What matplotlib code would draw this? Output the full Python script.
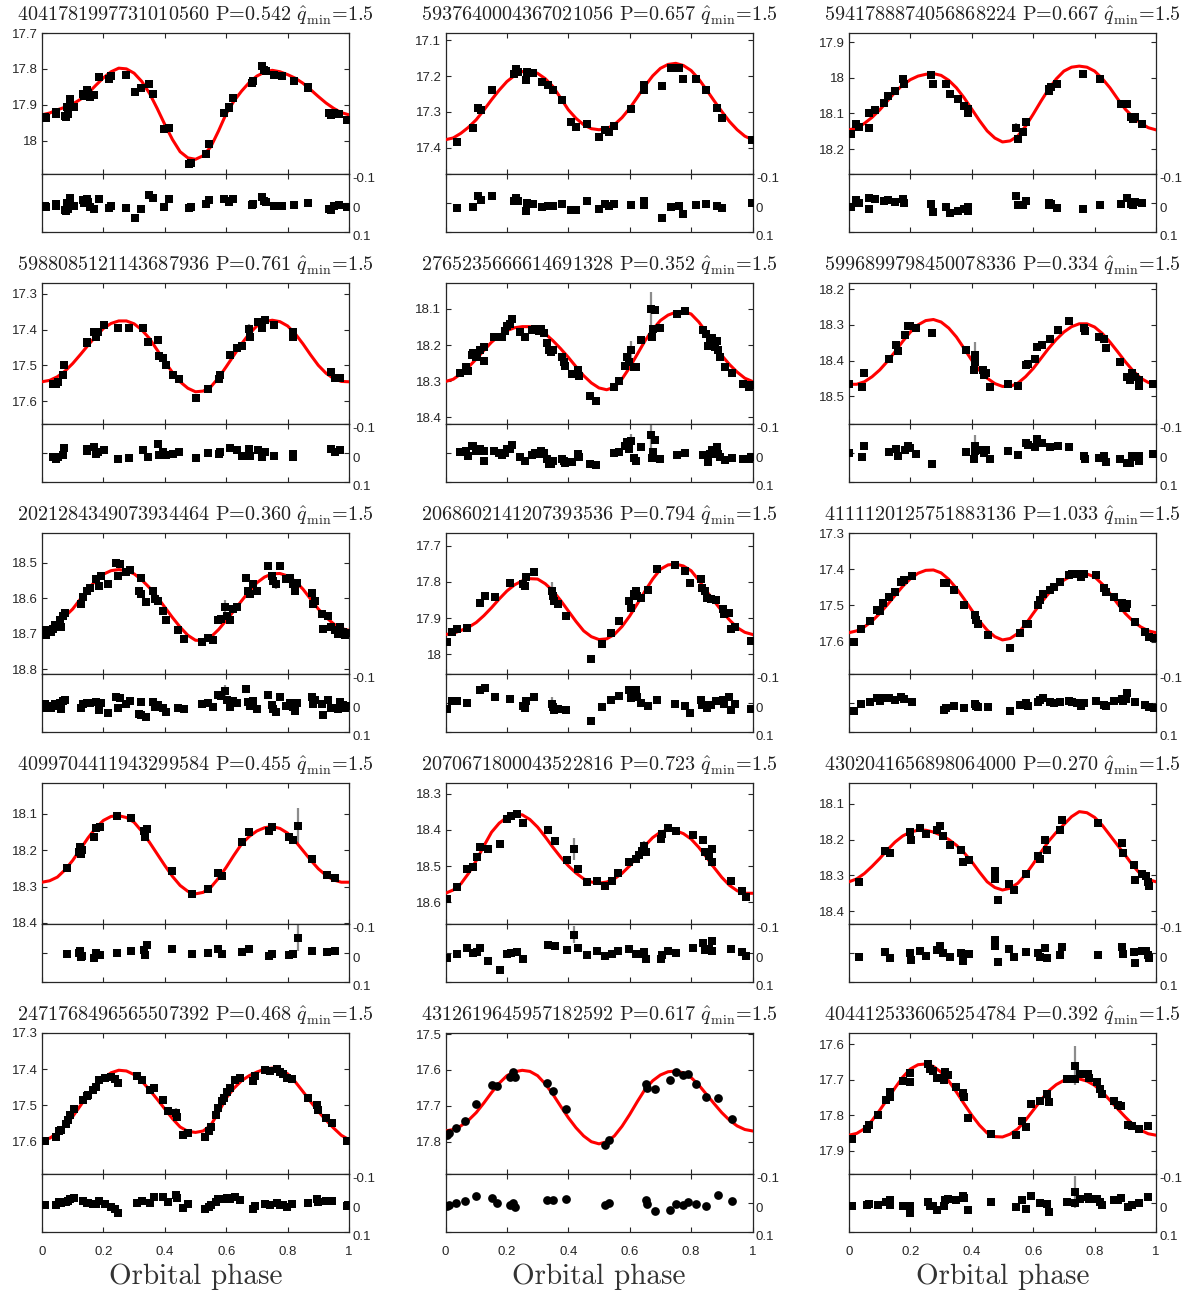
import numpy as np
import matplotlib
matplotlib.use('Agg')
import matplotlib.pyplot as plt
from matplotlib.ticker import MultipleLocator, FuncFormatter
import matplotlib.transforms as mtransforms

plt.rcParams['mathtext.fontset'] = 'cm'
plt.rcParams['font.family'] = ['Liberation Sans', 'DejaVu Sans']

# --- panel headers (row by row) ---
source_ids = ['4041781997731010560', '5937640004367021056', '5941788874056868224',
              '5988085121143687936', '2765235666614691328', '5996899798450078336',
              '2021284349073934464', '2068602141207393536', '4111120125751883136',
              '4099704411943299584', '2070671800043522816', '4302041656898064000',
              '2471768496565507392', '4312619645957182592', '4044125336065254784']
periods = ['0.542', '0.657', '0.667', '0.761', '0.352', '0.334', '0.360', '0.794',
           '1.033', '0.455', '0.723', '0.270', '0.468', '0.617', '0.392']
q_min = '1.5'

# magnitude range of each light-curve panel (bright end, faint end)
mag_top = [17.70, 17.079, 17.874, 17.27, 18.028, 18.183, 18.416, 17.665,
           17.30, 18.015, 18.27, 18.042, 17.30, 17.497, 17.569]
mag_bottom = [18.093, 17.474, 18.27, 17.664, 18.419, 18.577, 18.813, 18.054,
              17.689, 18.403, 18.66, 18.436, 17.69, 17.89, 17.965]

# model light curves read at phase 0, 0.025, ..., 1
curve_phase = [0.000, 0.025, 0.050, 0.075, 0.100, 0.125, 0.150, 0.175, 0.200, 0.225,
               0.250, 0.275, 0.300, 0.325, 0.350, 0.375, 0.400, 0.425, 0.450, 0.475,
               0.500, 0.525, 0.550, 0.575, 0.600, 0.625, 0.650, 0.675, 0.700, 0.725,
               0.750, 0.775, 0.800, 0.825, 0.850, 0.875, 0.900, 0.925, 0.950, 0.975, 1.000]
curve_01 = [17.928, 17.923, 17.914, 17.907, 17.898, 17.885, 17.868, 17.846, 17.825, 17.808,
            17.798, 17.800, 17.812, 17.835, 17.868, 17.910, 17.955, 17.997, 18.031, 18.048,
            18.052, 18.042, 18.017, 17.973, 17.925, 17.890, 17.862, 17.838, 17.820, 17.809,
            17.804, 17.808, 17.816, 17.826, 17.840, 17.858, 17.877, 17.895, 17.910, 17.922, 17.928]
curve_02 = [17.378, 17.373, 17.360, 17.343, 17.322, 17.295, 17.266, 17.239, 17.215, 17.198,
            17.187, 17.185, 17.192, 17.207, 17.229, 17.261, 17.294, 17.318, 17.336, 17.347,
            17.350, 17.347, 17.336, 17.316, 17.290, 17.259, 17.227, 17.199, 17.178, 17.167,
            17.164, 17.170, 17.184, 17.208, 17.238, 17.269, 17.299, 17.327, 17.350, 17.368, 17.378]
curve_03 = [18.146, 18.141, 18.128, 18.111, 18.090, 18.065, 18.040, 18.020, 18.005, 17.995,
            17.990, 17.988, 17.993, 18.007, 18.028, 18.056, 18.088, 18.120, 18.149, 18.169,
            18.180, 18.177, 18.163, 18.136, 18.102, 18.066, 18.032, 18.003, 17.981, 17.970,
            17.967, 17.970, 17.981, 18.002, 18.028, 18.059, 18.088, 18.110, 18.127, 18.140, 18.146]
curve_04 = [17.546, 17.542, 17.532, 17.516, 17.495, 17.470, 17.444, 17.419, 17.397, 17.383,
            17.376, 17.376, 17.384, 17.401, 17.425, 17.457, 17.490, 17.520, 17.546, 17.564,
            17.574, 17.572, 17.560, 17.535, 17.504, 17.472, 17.440, 17.412, 17.390, 17.378,
            17.374, 17.378, 17.390, 17.412, 17.440, 17.471, 17.500, 17.522, 17.537, 17.545, 17.546]
curve_05 = [18.301, 18.295, 18.280, 18.261, 18.239, 18.215, 18.192, 18.174, 18.160, 18.152,
            18.149, 18.149, 18.155, 18.169, 18.188, 18.210, 18.234, 18.260, 18.285, 18.305,
            18.319, 18.324, 18.317, 18.294, 18.262, 18.225, 18.188, 18.157, 18.132, 18.117,
            18.109, 18.107, 18.114, 18.136, 18.165, 18.197, 18.229, 18.254, 18.275, 18.292, 18.301]
curve_06 = [18.466, 18.466, 18.459, 18.445, 18.426, 18.402, 18.375, 18.346, 18.320, 18.300,
            18.288, 18.285, 18.292, 18.309, 18.334, 18.366, 18.399, 18.427, 18.449, 18.464,
            18.472, 18.472, 18.463, 18.445, 18.422, 18.394, 18.366, 18.341, 18.320, 18.305,
            18.297, 18.297, 18.306, 18.324, 18.348, 18.375, 18.403, 18.428, 18.449, 18.461, 18.466]
curve_07 = [18.690, 18.682, 18.667, 18.651, 18.630, 18.602, 18.574, 18.550, 18.532, 18.522,
            18.519, 18.522, 18.531, 18.548, 18.570, 18.596, 18.625, 18.654, 18.681, 18.704,
            18.718, 18.719, 18.709, 18.688, 18.662, 18.635, 18.607, 18.580, 18.556, 18.540,
            18.531, 18.530, 18.537, 18.552, 18.574, 18.602, 18.630, 18.653, 18.672, 18.685, 18.690]
curve_08 = [17.945, 17.942, 17.934, 17.925, 17.912, 17.893, 17.871, 17.847, 17.825, 17.808,
            17.797, 17.791, 17.792, 17.805, 17.825, 17.851, 17.880, 17.909, 17.935, 17.951,
            17.959, 17.957, 17.945, 17.923, 17.894, 17.860, 17.825, 17.792, 17.765, 17.753,
            17.751, 17.756, 17.769, 17.795, 17.825, 17.853, 17.880, 17.905, 17.926, 17.939, 17.945]
curve_09 = [17.575, 17.570, 17.559, 17.543, 17.522, 17.498, 17.472, 17.447, 17.426, 17.411,
            17.403, 17.402, 17.410, 17.428, 17.453, 17.482, 17.513, 17.543, 17.568, 17.586,
            17.595, 17.591, 17.577, 17.552, 17.522, 17.493, 17.467, 17.446, 17.430, 17.418,
            17.412, 17.413, 17.421, 17.441, 17.467, 17.495, 17.522, 17.543, 17.559, 17.570, 17.575]
curve_10 = [18.288, 18.284, 18.274, 18.254, 18.228, 18.197, 18.166, 18.139, 18.118, 18.107,
            18.105, 18.110, 18.123, 18.148, 18.178, 18.210, 18.242, 18.272, 18.297, 18.313,
            18.320, 18.316, 18.302, 18.277, 18.247, 18.214, 18.183, 18.162, 18.147, 18.138,
            18.135, 18.140, 18.153, 18.175, 18.201, 18.227, 18.251, 18.269, 18.282, 18.288, 18.288]
curve_11 = [18.575, 18.566, 18.549, 18.520, 18.485, 18.444, 18.406, 18.381, 18.365, 18.357,
            18.358, 18.371, 18.392, 18.419, 18.448, 18.475, 18.499, 18.519, 18.535, 18.544,
            18.547, 18.544, 18.535, 18.520, 18.499, 18.471, 18.443, 18.421, 18.406, 18.400,
            18.402, 18.410, 18.425, 18.448, 18.475, 18.504, 18.531, 18.553, 18.568, 18.575, 18.575]
curve_12 = [18.318, 18.310, 18.295, 18.275, 18.253, 18.229, 18.207, 18.190, 18.179, 18.174,
            18.174, 18.179, 18.188, 18.200, 18.216, 18.237, 18.262, 18.291, 18.318, 18.334,
            18.341, 18.336, 18.322, 18.298, 18.268, 18.236, 18.205, 18.180, 18.158, 18.136,
            18.122, 18.125, 18.138, 18.160, 18.188, 18.216, 18.244, 18.273, 18.297, 18.312, 18.318]
curve_13 = [17.595, 17.591, 17.577, 17.557, 17.531, 17.501, 17.471, 17.446, 17.425, 17.410,
            17.403, 17.405, 17.415, 17.433, 17.457, 17.483, 17.510, 17.537, 17.560, 17.572,
            17.575, 17.571, 17.555, 17.519, 17.480, 17.453, 17.432, 17.418, 17.408, 17.400,
            17.397, 17.401, 17.413, 17.435, 17.462, 17.490, 17.517, 17.541, 17.563, 17.583, 17.595]
curve_14 = [17.770, 17.766, 17.756, 17.740, 17.719, 17.692, 17.663, 17.637, 17.616, 17.605,
            17.601, 17.604, 17.616, 17.639, 17.668, 17.701, 17.733, 17.761, 17.784, 17.800,
            17.806, 17.800, 17.784, 17.757, 17.724, 17.688, 17.654, 17.630, 17.614, 17.605,
            17.603, 17.608, 17.621, 17.642, 17.668, 17.694, 17.719, 17.740, 17.756, 17.766, 17.770]
curve_15 = [17.856, 17.851, 17.838, 17.815, 17.786, 17.755, 17.723, 17.693, 17.670, 17.658,
            17.656, 17.663, 17.679, 17.704, 17.735, 17.768, 17.800, 17.828, 17.850, 17.860,
            17.861, 17.853, 17.838, 17.814, 17.786, 17.758, 17.732, 17.714, 17.702, 17.697,
            17.698, 17.704, 17.716, 17.735, 17.758, 17.782, 17.805, 17.826, 17.842, 17.852, 17.856]

# observations: (phase, magnitude) or (phase, magnitude, error) when the error bar shows
pts_01 = [(0.011, 17.935), (0.014, 17.938), (0.045, 17.920), (0.047, 17.925), (0.076, 17.930),
          (0.079, 17.934), (0.084, 17.925), (0.082, 17.905), (0.092, 17.885), (0.103, 17.907),
          (0.133, 17.870), (0.138, 17.875), (0.146, 17.858), (0.149, 17.866), (0.155, 17.878),
          (0.168, 17.873), (0.187, 17.823), (0.218, 17.829), (0.225, 17.820), (0.272, 17.817),
          (0.303, 17.865), (0.323, 17.854), (0.350, 17.842), (0.361, 17.870), (0.399, 17.968),
          (0.415, 17.966), (0.478, 18.065), (0.485, 18.062), (0.534, 18.038), (0.545, 18.010),
          (0.594, 17.924), (0.608, 17.910), (0.610, 17.905), (0.621, 17.882), (0.683, 17.840),
          (0.686, 17.835), (0.716, 17.793), (0.724, 17.802), (0.729, 17.805), (0.756, 17.817),
          (0.781, 17.820), (0.821, 17.833), (0.865, 17.850), (0.868, 17.852), (0.935, 17.923),
          (0.940, 17.928), (0.951, 17.922), (0.968, 17.925), (0.995, 17.942)]
pts_02 = [(0.038, 17.383), (0.089, 17.346), (0.107, 17.290), (0.116, 17.294), (0.151, 17.240),
          (0.222, 17.193), (0.229, 17.180), (0.235, 17.187), (0.263, 17.212), (0.266, 17.187),
          (0.285, 17.190), (0.315, 17.215), (0.334, 17.224), (0.350, 17.240), (0.378, 17.268),
          (0.408, 17.327), (0.426, 17.343), (0.462, 17.334), (0.500, 17.369), (0.519, 17.350),
          (0.533, 17.355), (0.550, 17.339), (0.604, 17.292), (0.646, 17.238), (0.647, 17.224),
          (0.705, 17.227, 0.008), (0.735, 17.178), (0.760, 17.178), (0.772, 17.208), (0.817, 17.208),
          (0.847, 17.238), (0.883, 17.290), (0.902, 17.318), (0.998, 17.378)]
pts_03 = [(0.005, 18.158), (0.023, 18.130), (0.034, 18.137), (0.064, 18.140), (0.065, 18.100),
          (0.085, 18.090), (0.113, 18.070), (0.127, 18.051), (0.151, 18.037), (0.176, 18.004),
          (0.178, 18.018), (0.266, 17.993), (0.275, 18.018), (0.315, 18.016), (0.329, 18.044),
          (0.354, 18.060), (0.376, 18.079), (0.387, 18.098), (0.389, 18.088), (0.545, 18.140, 0.012),
          (0.549, 18.172), (0.567, 18.152), (0.578, 18.124), (0.650, 18.032), (0.652, 18.037),
          (0.658, 18.025), (0.677, 18.018), (0.762, 17.990), (0.819, 18.004), (0.885, 18.074),
          (0.904, 18.074), (0.918, 18.109), (0.925, 18.116), (0.932, 18.111), (0.954, 18.130)]
pts_04 = [(0.036, 17.551), (0.045, 17.553), (0.052, 17.546), (0.068, 17.527), (0.072, 17.500),
          (0.145, 17.435), (0.147, 17.439), (0.168, 17.407), (0.177, 17.421), (0.183, 17.407),
          (0.201, 17.386), (0.248, 17.396), (0.284, 17.396), (0.329, 17.396), (0.346, 17.435),
          (0.378, 17.430), (0.382, 17.474), (0.395, 17.479), (0.403, 17.500), (0.427, 17.526),
          (0.446, 17.539), (0.500, 17.591), (0.541, 17.566), (0.577, 17.537), (0.579, 17.526),
          (0.612, 17.470), (0.634, 17.451), (0.653, 17.446), (0.675, 17.399, 0.014), (0.677, 17.421),
          (0.704, 17.379), (0.715, 17.396), (0.728, 17.374), (0.755, 17.386), (0.816, 17.407),
          (0.818, 17.421), (0.940, 17.518), (0.954, 17.535), (0.971, 17.535)]
pts_05 = [(0.047, 18.278), (0.067, 18.260), (0.074, 18.273), (0.085, 18.229), (0.091, 18.223, 0.012),
          (0.100, 18.232), (0.104, 18.227), (0.113, 18.214), (0.124, 18.243), (0.126, 18.206),
          (0.158, 18.178), (0.173, 18.177), (0.184, 18.177), (0.195, 18.162), (0.200, 18.146),
          (0.211, 18.142), (0.216, 18.128), (0.244, 18.165), (0.260, 18.178), (0.282, 18.158),
          (0.293, 18.155), (0.304, 18.160), (0.311, 18.155), (0.322, 18.167), (0.331, 18.195),
          (0.337, 18.215), (0.344, 18.220), (0.351, 18.215), (0.378, 18.234), (0.386, 18.248),
          (0.389, 18.257), (0.413, 18.280), (0.430, 18.269), (0.435, 18.285), (0.471, 18.340),
          (0.490, 18.354), (0.550, 18.317), (0.566, 18.300), (0.585, 18.257), (0.591, 18.234),
          (0.599, 18.248), (0.604, 18.215, 0.025), (0.613, 18.260), (0.621, 18.260), (0.637, 18.186),
          (0.670, 18.100, 0.048), (0.683, 18.103), (0.672, 18.178), (0.675, 18.155), (0.700, 18.153),
          (0.755, 18.114), (0.779, 18.107), (0.839, 18.158), (0.847, 18.169), (0.856, 18.202),
          (0.861, 18.183), (0.869, 18.180), (0.878, 18.206), (0.883, 18.188), (0.886, 18.215),
          (0.894, 18.234), (0.910, 18.262), (0.932, 18.278), (0.970, 18.308), (0.987, 18.317),
          (0.996, 18.312)]
pts_06 = [(0.000, 18.465), (0.042, 18.475), (0.050, 18.435), (0.129, 18.394), (0.154, 18.357),
          (0.159, 18.374), (0.184, 18.327), (0.192, 18.303), (0.200, 18.303), (0.217, 18.309),
          (0.269, 18.323), (0.381, 18.371), (0.409, 18.385, 0.037), (0.410, 18.403), (0.406, 18.426),
          (0.436, 18.426), (0.439, 18.440), (0.447, 18.435), (0.458, 18.475), (0.518, 18.466),
          (0.549, 18.470), (0.575, 18.412), (0.584, 18.408), (0.606, 18.396), (0.611, 18.362),
          (0.628, 18.357), (0.655, 18.340), (0.680, 18.313), (0.715, 18.290), (0.765, 18.309),
          (0.770, 18.318), (0.814, 18.334), (0.830, 18.340), (0.836, 18.366), (0.882, 18.403),
          (0.907, 18.445), (0.915, 18.454), (0.923, 18.435), (0.931, 18.447), (0.943, 18.454),
          (0.945, 18.472), (0.989, 18.466)]
pts_07 = [(0.009, 18.690), (0.014, 18.704), (0.030, 18.695), (0.036, 18.686), (0.041, 18.676),
          (0.058, 18.662), (0.063, 18.681), (0.068, 18.649), (0.074, 18.642), (0.128, 18.616),
          (0.134, 18.597), (0.147, 18.579), (0.155, 18.570), (0.177, 18.546), (0.186, 18.565),
          (0.193, 18.537), (0.215, 18.560), (0.240, 18.500), (0.253, 18.503), (0.248, 18.537),
          (0.272, 18.525), (0.288, 18.521), (0.316, 18.579), (0.321, 18.542), (0.324, 18.588),
          (0.340, 18.611), (0.362, 18.579), (0.367, 18.602), (0.378, 18.607), (0.395, 18.635),
          (0.405, 18.662), (0.443, 18.690), (0.462, 18.714), (0.520, 18.723), (0.541, 18.711),
          (0.558, 18.716), (0.574, 18.662), (0.582, 18.658), (0.596, 18.625, 0.02), (0.601, 18.649),
          (0.612, 18.662), (0.623, 18.630), (0.636, 18.624), (0.666, 18.542), (0.672, 18.579),
          (0.677, 18.588), (0.688, 18.560), (0.699, 18.579), (0.737, 18.509), (0.748, 18.537),
          (0.753, 18.551), (0.762, 18.560, 0.015), (0.775, 18.509), (0.795, 18.546), (0.808, 18.542),
          (0.818, 18.560), (0.824, 18.579), (0.829, 18.556), (0.878, 18.584), (0.884, 18.616),
          (0.889, 18.607), (0.911, 18.644), (0.933, 18.649), (0.916, 18.686), (0.940, 18.681),
          (0.954, 18.690), (0.965, 18.700), (0.971, 18.681), (0.982, 18.695), (0.987, 18.704),
          (0.995, 18.698)]
pts_08 = [(0.005, 17.965), (0.020, 17.937), (0.036, 17.931), (0.069, 17.926), (0.112, 17.857),
          (0.129, 17.839), (0.161, 17.841), (0.210, 17.804), (0.254, 17.806), (0.259, 17.811),
          (0.263, 17.786), (0.289, 17.772), (0.346, 17.825, 0.025), (0.350, 17.839), (0.352, 17.852),
          (0.365, 17.860), (0.392, 17.894), (0.474, 18.012), (0.510, 17.972), (0.539, 17.940),
          (0.566, 17.908), (0.597, 17.852), (0.603, 17.871), (0.613, 17.834), (0.619, 17.825),
          (0.624, 17.839), (0.636, 17.845), (0.659, 17.823), (0.690, 17.765), (0.746, 17.754),
          (0.779, 17.769), (0.798, 17.802), (0.831, 17.792), (0.837, 17.817), (0.844, 17.825),
          (0.851, 17.843), (0.864, 17.848), (0.880, 17.850), (0.905, 17.875), (0.907, 17.889),
          (0.924, 17.885), (0.929, 17.931), (0.943, 17.924), (0.995, 17.963)]
pts_09 = [(0.016, 17.600), (0.039, 17.566), (0.069, 17.542), (0.091, 17.513), (0.100, 17.515),
          (0.111, 17.493), (0.129, 17.476), (0.149, 17.462), (0.168, 17.435), (0.179, 17.430),
          (0.206, 17.419), (0.308, 17.439), (0.315, 17.439), (0.343, 17.458), (0.376, 17.499),
          (0.409, 17.527), (0.414, 17.540), (0.419, 17.550), (0.452, 17.582), (0.524, 17.618),
          (0.556, 17.577), (0.578, 17.550), (0.584, 17.551), (0.616, 17.499), (0.622, 17.485),
          (0.633, 17.469), (0.655, 17.458), (0.669, 17.450), (0.688, 17.435), (0.715, 17.417),
          (0.728, 17.414), (0.743, 17.412), (0.757, 17.421), (0.765, 17.412), (0.803, 17.417),
          (0.830, 17.453), (0.836, 17.462), (0.863, 17.476), (0.888, 17.494), (0.892, 17.508),
          (0.901, 17.508), (0.907, 17.495), (0.932, 17.545), (0.965, 17.572), (0.978, 17.586),
          (0.995, 17.591)]
pts_10 = [(0.083, 18.249), (0.119, 18.206), (0.124, 18.192), (0.127, 18.210), (0.131, 18.199),
          (0.169, 18.164), (0.177, 18.139), (0.190, 18.135), (0.243, 18.107), (0.289, 18.111),
          (0.331, 18.146), (0.334, 18.164), (0.342, 18.141), (0.425, 18.258), (0.488, 18.320),
          (0.541, 18.306), (0.574, 18.263), (0.585, 18.270), (0.653, 18.178), (0.673, 18.150),
          (0.739, 18.146), (0.750, 18.137), (0.805, 18.164), (0.817, 18.173), (0.835, 18.132, 0.048),
          (0.878, 18.224), (0.929, 18.267), (0.954, 18.276)]
pts_11 = [(0.005, 18.591), (0.038, 18.559), (0.071, 18.508), (0.088, 18.501), (0.104, 18.474),
          (0.113, 18.446), (0.138, 18.452), (0.176, 18.439, 0.012), (0.200, 18.369), (0.212, 18.360),
          (0.232, 18.355), (0.254, 18.381), (0.333, 18.400), (0.358, 18.431), (0.395, 18.483),
          (0.420, 18.452, 0.03), (0.433, 18.508), (0.461, 18.545), (0.495, 18.540), (0.519, 18.554),
          (0.541, 18.540), (0.561, 18.520), (0.597, 18.489), (0.619, 18.480), (0.630, 18.468),
          (0.640, 18.457), (0.647, 18.443, 0.012), (0.652, 18.462), (0.701, 18.425), (0.706, 18.411),
          (0.726, 18.394), (0.751, 18.402), (0.806, 18.415), (0.839, 18.427), (0.846, 18.462),
          (0.859, 18.471), (0.867, 18.452), (0.867, 18.489, 0.012), (0.929, 18.542), (0.967, 18.568),
          (0.978, 18.586)]
pts_12 = [(0.034, 18.318), (0.118, 18.232), (0.135, 18.238), (0.200, 18.179), (0.203, 18.202),
          (0.231, 18.167), (0.250, 18.184), (0.288, 18.174), (0.297, 18.163), (0.305, 18.191),
          (0.330, 18.216), (0.365, 18.230), (0.370, 18.262), (0.392, 18.256), (0.476, 18.288),
          (0.477, 18.309), (0.485, 18.369), (0.520, 18.323), (0.538, 18.341), (0.576, 18.295),
          (0.617, 18.247), (0.622, 18.253), (0.639, 18.202), (0.644, 18.230), (0.688, 18.174),
          (0.693, 18.145), (0.812, 18.154), (0.890, 18.211), (0.893, 18.239), (0.929, 18.272),
          (0.930, 18.314), (0.956, 18.295), (0.967, 18.302), (0.973, 18.318), (0.978, 18.330)]
pts_13 = [(0.011, 17.600), (0.045, 17.588), (0.055, 17.570), (0.063, 17.568), (0.077, 17.551),
          (0.085, 17.540), (0.092, 17.526), (0.103, 17.510), (0.132, 17.485), (0.147, 17.475),
          (0.150, 17.471), (0.166, 17.457), (0.177, 17.448), (0.186, 17.431), (0.204, 17.425),
          (0.226, 17.422), (0.237, 17.427), (0.248, 17.437), (0.308, 17.420), (0.327, 17.429),
          (0.351, 17.457), (0.364, 17.452), (0.395, 17.485), (0.411, 17.517), (0.438, 17.520, 0.012),
          (0.439, 17.531), (0.460, 17.582), (0.476, 17.577), (0.530, 17.588), (0.545, 17.572),
          (0.552, 17.559), (0.568, 17.526), (0.574, 17.508), (0.585, 17.489), (0.592, 17.480),
          (0.601, 17.462), (0.612, 17.452), (0.628, 17.431), (0.645, 17.425), (0.688, 17.434),
          (0.693, 17.420), (0.726, 17.402), (0.742, 17.406), (0.766, 17.400), (0.775, 17.409),
          (0.786, 17.413), (0.799, 17.425), (0.813, 17.427), (0.867, 17.480), (0.895, 17.499),
          (0.900, 17.512), (0.925, 17.535), (0.943, 17.549), (0.992, 17.600), (0.998, 17.600)]
pts_14 = [(0.005, 17.780), (0.012, 17.775), (0.034, 17.763), (0.063, 17.742), (0.100, 17.696),
          (0.151, 17.643), (0.167, 17.644), (0.211, 17.619), (0.220, 17.607), (0.227, 17.619),
          (0.331, 17.635), (0.351, 17.658), (0.393, 17.710), (0.519, 17.809), (0.533, 17.794),
          (0.654, 17.640), (0.657, 17.651), (0.681, 17.654), (0.730, 17.629), (0.752, 17.607),
          (0.772, 17.614), (0.790, 17.612), (0.817, 17.638), (0.847, 17.675), (0.886, 17.679),
          (0.934, 17.738)]
pts_15 = [(0.009, 17.866), (0.058, 17.838), (0.064, 17.828), (0.096, 17.799), (0.120, 17.758),
          (0.133, 17.735), (0.135, 17.749), (0.176, 17.703), (0.198, 17.707), (0.200, 17.682),
          (0.257, 17.656), (0.264, 17.670), (0.275, 17.675), (0.286, 17.695), (0.310, 17.701),
          (0.312, 17.679), (0.321, 17.686), (0.348, 17.721), (0.370, 17.738), (0.374, 17.749),
          (0.387, 17.807), (0.463, 17.852), (0.545, 17.856), (0.562, 17.816), (0.575, 17.833),
          (0.593, 17.768), (0.622, 17.760), (0.644, 17.740), (0.650, 17.763), (0.710, 17.698),
          (0.735, 17.661, 0.055), (0.736, 17.698), (0.754, 17.684), (0.779, 17.684), (0.783, 17.695),
          (0.808, 17.707), (0.816, 17.726), (0.823, 17.740), (0.863, 17.760), (0.877, 17.772),
          (0.885, 17.775), (0.910, 17.828), (0.923, 17.831), (0.945, 17.840), (0.973, 17.831)]

curves = [curve_01, curve_02, curve_03, curve_04, curve_05, curve_06, curve_07, curve_08,
          curve_09, curve_10, curve_11, curve_12, curve_13, curve_14, curve_15]
points = [pts_01, pts_02, pts_03, pts_04, pts_05, pts_06, pts_07, pts_08,
          pts_09, pts_10, pts_11, pts_12, pts_13, pts_14, pts_15]

phase_ticks = [0, 0.2, 0.4, 0.6, 0.8, 1]
resid_ticks = [-0.1, 0, 0.1]
resid_labels = ['-0.1', '0', '0.1']

# layout in pixels
W, H = 1200, 1300
col_left = [42, 445.5, 849]
ax_w = 307
main_h, res_h = 141, 58
tick_col = '#262626'

fig = plt.figure(figsize=(W / 100, H / 100), dpi=100)


def style_axes(ax):
    for s in ax.spines.values():
        s.set_color(tick_col)
        s.set_linewidth(0.9)
    ax.tick_params(direction='in', length=3.5, width=0.8, color=tick_col,
                   labelcolor=tick_col, labelsize=9.5,
                   top=True, bottom=True, left=True, right=True)
    ax.set_xlim(0, 1)
    ax.set_xticks(phase_ticks)


for i in range(15):
    r, c = divmod(i, 3)
    top = 33 + 250 * r
    ax_m = fig.add_axes([col_left[c] / W, 1 - (top + main_h) / H, ax_w / W, main_h / H])
    ax_r = fig.add_axes([col_left[c] / W, 1 - (top + main_h + res_h) / H, ax_w / W, res_h / H])
    style_axes(ax_m)
    style_axes(ax_r)

    pts = points[i]
    ph = np.array([p[0] for p in pts])
    mg = np.array([p[1] for p in pts])
    er = np.array([p[2] if len(p) > 2 else 0.0 for p in pts])
    model = np.array(curves[i])
    res = mg - np.interp(ph, curve_phase, model)
    has_err = er > 0
    marker = 'o' if i == 13 else 's'
    ms = 6.3 if i == 13 else 5.8

    # light curve
    ax_m.errorbar(ph[has_err], mg[has_err], yerr=er[has_err], fmt='none',
                  ecolor='#8c8c8c', elinewidth=1.6, capsize=0, zorder=2)
    ax_m.plot(curve_phase, model, color='red', lw=2.2, zorder=3, solid_joinstyle='round')
    ax_m.plot(ph, mg, marker, color='black', ms=ms, mew=0, zorder=4)
    ax_m.set_ylim(mag_bottom[i], mag_top[i])
    ax_m.yaxis.set_major_locator(MultipleLocator(0.1))
    ax_m.yaxis.set_major_formatter(FuncFormatter(lambda v, p: f'{v:g}'))
    ax_m.tick_params(labelbottom=False, pad=3)

    # residuals
    ax_r.errorbar(ph[has_err], res[has_err], yerr=er[has_err], fmt='none',
                  ecolor='#8c8c8c', elinewidth=1.6, capsize=0, zorder=2)
    ax_r.plot(ph, res, marker, color='black', ms=ms, mew=0, zorder=4)
    ax_r.set_ylim(0.1, -0.1)
    ax_r.set_yticks(resid_ticks)
    ax_r.set_yticklabels(resid_labels)
    ax_r.tick_params(axis='y', labelleft=False, labelright=True, pad=2.5)
    shift = mtransforms.ScaledTranslation(0, -4 / 100, fig.dpi_scale_trans)
    for lab in ax_r.get_yticklabels():
        lab.set_transform(lab.get_transform() + shift)
    if r == 4:
        ax_r.set_xticklabels([f'{t:g}' for t in phase_ticks])
        ax_r.tick_params(axis='x', pad=10)
        fig.text((col_left[c] + ax_w / 2) / W, 1 - 1277 / H, 'Orbital phase',
                 family='cmr10', fontsize=21, color='#333333', ha='center', va='center')
    else:
        ax_r.tick_params(labelbottom=False)

    title = f'{source_ids[i]} P={periods[i]} ' + r'$\hat{q}_{\mathrm{min}}$' + f'={q_min}'
    ax_m.annotate(title, xy=(0.5, 1), xycoords='axes fraction', xytext=(0, 12.5),
                  textcoords='offset points', ha='center', va='center',
                  family='cmr10', fontsize=14.5, color='#222222')

fig.savefig('out.png', dpi=100)
